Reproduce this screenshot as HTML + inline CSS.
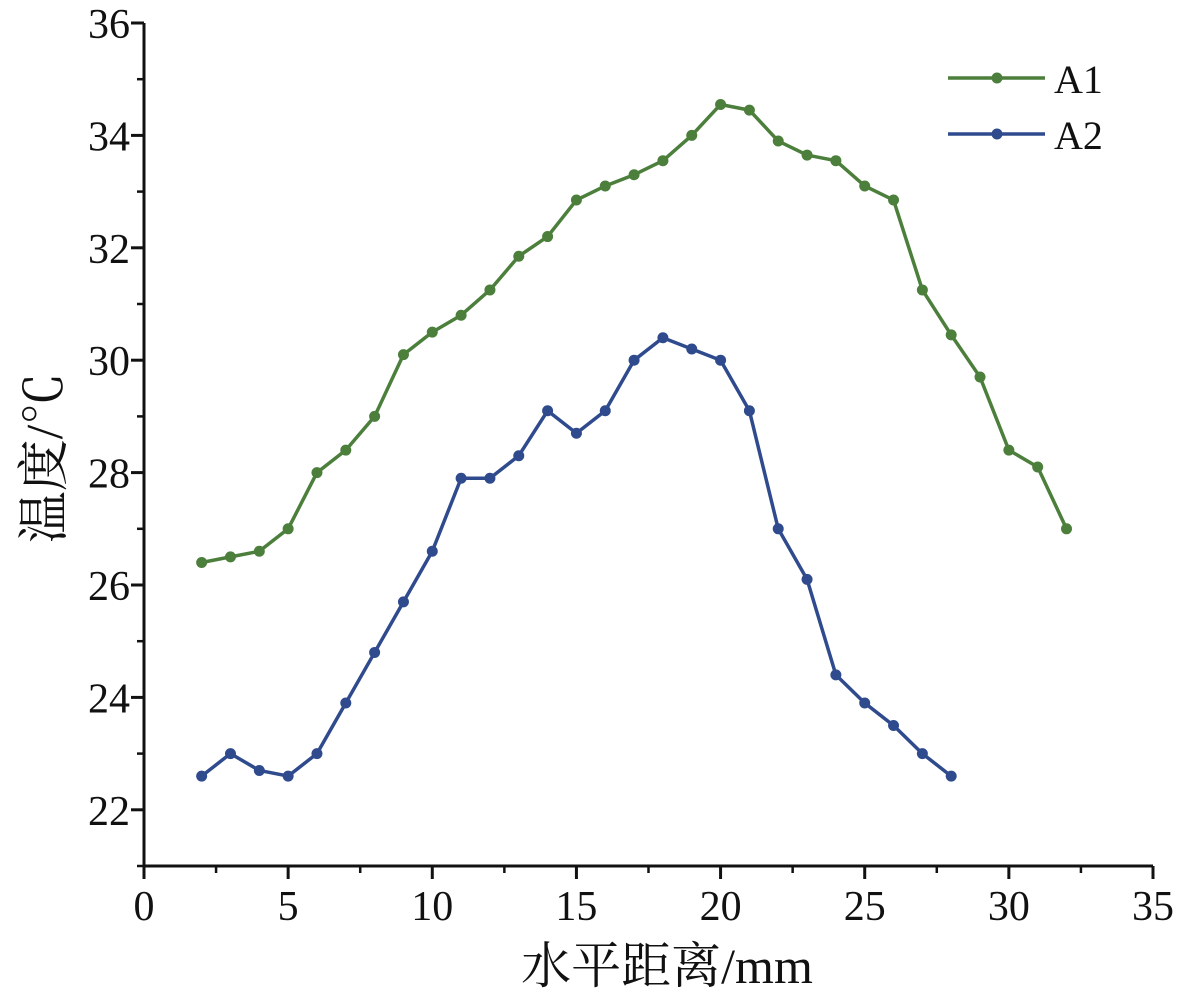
<!DOCTYPE html>
<html><head><meta charset="utf-8"><style>
html,body{margin:0;padding:0;background:#fff;}
svg text{font-family:"Liberation Serif","Noto Serif CJK SC",serif;fill:#111;}
</style></head><body>
<svg id="chart" width="1191" height="993" viewBox="0 0 1191 993" xmlns="http://www.w3.org/2000/svg">
<g id="axes"></g>
<g id="series"></g>
<g id="legend"></g>
<text transform="translate(62,458) rotate(-90)" text-anchor="middle" font-size="52">温度/℃</text>
<text x="667" y="983" text-anchor="middle" font-size="50">水平距离/mm</text>
</svg>
<script>
const xA1 = [2,3,4,5,6,7,8,9,10,11,12,13,14,15,16,17,18,19,20,21,22,23,24,25,26,27,28,29,30,31,32];
const yA1 = [26.4,26.5,26.6,27.0,28.0,28.4,29.0,30.1,30.5,30.8,31.25,31.85,32.2,32.85,33.1,33.3,33.55,34.0,34.55,34.45,33.9,33.65,33.55,33.1,32.85,31.25,30.45,29.7,28.4,28.1,27.0];
const xA2 = [2,3,4,5,6,7,8,9,10,11,12,13,14,15,16,17,18,19,20,21,22,23,24,25,26,27,28];
const yA2 = [22.6,23.0,22.7,22.6,23.0,23.9,24.8,25.7,26.6,27.9,27.9,28.3,29.1,28.7,29.1,30.0,30.4,30.2,30.0,29.1,27.0,26.1,24.4,23.9,23.5,23.0,22.6];
const xTicks = [0,5,10,15,20,25,30,35];
const yTicks = [22,24,26,28,30,32,34,36];
const seriesNames = ["A1","A2"];
const seriesColors = ["#4b7f3b","#2f4b8e"];

const NS="http://www.w3.org/2000/svg";
const X0=144,X1=1153,Y0=866,Ytop=23;
const sx=v=>X0+(v-0)/35*(X1-X0);
const sy=v=>Y0-(v-21)/15*(Y0-Ytop);
function mk(t,a,p){const e=document.createElementNS(NS,t);for(const k in a)e.setAttribute(k,a[k]);p.appendChild(e);return e;}
const axes=document.getElementById('axes');
let e;
e=mk('line',{x1:X0,y1:Ytop,x2:X0,y2:Y0,stroke:'#111','stroke-width':3},axes);

e=mk('line',{x1:X0,y1:Y0,x2:X1,y2:Y0,stroke:'#111','stroke-width':3},axes);

xTicks.forEach((v,i)=>{
  e=mk('line',{x1:sx(v),y1:Y0,x2:sx(v),y2:Y0+13,stroke:'#111','stroke-width':3},axes);
  
  if(i<xTicks.length-1){e=mk('line',{x1:sx(v+2.5),y1:Y0,x2:sx(v+2.5),y2:Y0+7,stroke:'#111','stroke-width':2.5},axes);
  }
  e=mk('text',{x:sx(v),y:Y0+54,'text-anchor':'middle','font-size':42},axes);e.textContent=v;
  
});
yTicks.forEach((v,i)=>{
  e=mk('line',{x1:X0-13,y1:sy(v),x2:X0,y2:sy(v),stroke:'#111','stroke-width':3},axes);
  
  e=mk('line',{x1:X0-7,y1:sy(v-1),x2:X0,y2:sy(v-1),stroke:'#111','stroke-width':2.5},axes);
  
  e=mk('text',{x:X0-14,y:sy(v)+15,'text-anchor':'end','font-size':42},axes);e.textContent=v;
  
});
const ser=document.getElementById('series');
[[xA1,yA1],[xA2,yA2]].forEach((d,s)=>{
  const g=mk('g',{},ser);
  
  
  const pts=d[0].map((x,i)=>sx(x)+','+sy(d[1][i])).join(' ');
  e=mk('polyline',{points:pts,fill:'none',stroke:seriesColors[s],'stroke-width':3.5,'stroke-linejoin':'round'},g);
  
  
  d[0].forEach((x,i)=>{
    e=mk('circle',{cx:sx(x),cy:sy(d[1][i]),r:5.5,fill:seriesColors[s]},g);
    
    
  });
});
const leg=document.getElementById('legend');
seriesNames.forEach((n,s)=>{
  const y=78+s*56;
  const g=mk('g',{},leg);
  
  
  mk('line',{x1:948,y1:y,x2:1045,y2:y,stroke:seriesColors[s],'stroke-width':3.5},g);
  mk('circle',{cx:997,cy:y,r:5.5,fill:seriesColors[s]},g);
  const t=mk('text',{x:1054,y:y+15,'font-size':40},g);t.textContent=n;
});
</script>
</body></html>
